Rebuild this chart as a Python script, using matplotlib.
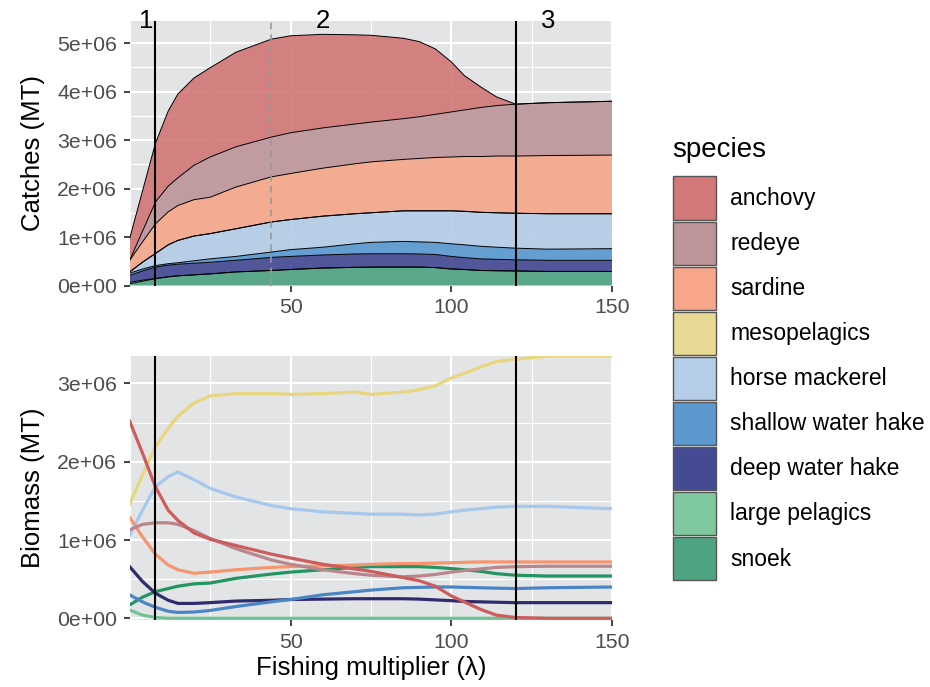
import numpy as np
import matplotlib
matplotlib.use('Agg')
import matplotlib.pyplot as plt
from matplotlib.patches import Patch
from matplotlib.ticker import FuncFormatter, MultipleLocator

plt.rcParams['font.family'] = ['Liberation Sans', 'DejaVu Sans']

# fishing multiplier (lambda)
lam = [0, 4, 8, 12, 15, 20, 25, 33, 44, 50, 60, 70, 75, 85, 90, 95, 100, 104, 109, 114, 120, 130, 150]

species = ['anchovy', 'redeye', 'sardine', 'mesopelagics', 'horse mackerel',
           'shallow water hake', 'deep water hake', 'large pelagics', 'snoek']

# catches, millions of tonnes
catch_anchovy = [0.445, 0.83, 1.21, 1.55, 1.73, 1.80, 1.84, 1.95, 2.02, 2.00, 1.93, 1.84, 1.79, 1.66, 1.55, 1.35, 1.03, 0.71, 0.43, 0.18, 0, 0, 0]
catch_redeye = [0, 0.22, 0.45, 0.53, 0.57, 0.71, 0.83, 0.83, 0.82, 0.84, 0.83, 0.82, 0.82, 0.84, 0.86, 0.89, 0.93, 0.96, 1.01, 1.04, 1.07, 1.09, 1.11]
catch_sardine = [0.24, 0.42, 0.61, 0.68, 0.72, 0.75, 0.75, 0.86, 0.93, 0.95, 0.99, 1.03, 1.05, 1.06, 1.08, 1.10, 1.11, 1.13, 1.15, 1.17, 1.18, 1.20, 1.21]
catch_meso = [0] * 23
catch_hmack = [0.025, 0.14, 0.25, 0.39, 0.46, 0.51, 0.52, 0.57, 0.62, 0.62, 0.64, 0.62, 0.61, 0.63, 0.64, 0.65, 0.68, 0.69, 0.70, 0.71, 0.72, 0.73, 0.72]
catch_swh = [0.045, 0.04, 0.03, 0.03, 0.03, 0.05, 0.07, 0.08, 0.11, 0.14, 0.16, 0.21, 0.235, 0.255, 0.25, 0.25, 0.26, 0.265, 0.26, 0.25, 0.24, 0.23, 0.24]
catch_dwh = [0.145, 0.19, 0.235, 0.24, 0.24, 0.24, 0.24, 0.24, 0.27, 0.27, 0.27, 0.275, 0.275, 0.275, 0.27, 0.27, 0.26, 0.245, 0.24, 0.235, 0.23, 0.23, 0.23]
catch_lpel = [0.03, 0.02, 0.005] + [0] * 20
catch_snoek = [0.035, 0.09, 0.14, 0.18, 0.20, 0.22, 0.24, 0.28, 0.31, 0.33, 0.36, 0.375, 0.38, 0.38, 0.38, 0.37, 0.34, 0.33, 0.31, 0.305, 0.30, 0.29, 0.29]

# biomass, millions of tonnes
bio_anchovy = [2.52, 2.11, 1.68, 1.38, 1.25, 1.09, 1.01, 0.93, 0.82, 0.77, 0.69, 0.63, 0.60, 0.52, 0.48, 0.41, 0.285, 0.21, 0.115, 0.04, 0.01, 0, 0]
bio_redeye = [1.13, 1.20, 1.22, 1.22, 1.20, 1.12, 1.02, 0.89, 0.745, 0.69, 0.62, 0.57, 0.55, 0.53, 0.54, 0.56, 0.59, 0.61, 0.63, 0.65, 0.66, 0.665, 0.665]
bio_sardine = [1.29, 1.04, 0.82, 0.68, 0.62, 0.575, 0.59, 0.62, 0.65, 0.66, 0.67, 0.68, 0.69, 0.70, 0.70, 0.705, 0.71, 0.715, 0.72, 0.72, 0.72, 0.72, 0.72]
bio_meso = [1.46, 1.83, 2.19, 2.43, 2.58, 2.75, 2.84, 2.87, 2.87, 2.86, 2.87, 2.89, 2.86, 2.89, 2.92, 2.97, 3.07, 3.13, 3.21, 3.28, 3.31, 3.35, 3.35]
bio_hmack = [1.06, 1.38, 1.68, 1.81, 1.87, 1.77, 1.66, 1.55, 1.44, 1.40, 1.36, 1.34, 1.33, 1.33, 1.32, 1.33, 1.36, 1.38, 1.40, 1.42, 1.43, 1.43, 1.40]
bio_swh = [0.30, 0.21, 0.14, 0.09, 0.075, 0.08, 0.10, 0.15, 0.21, 0.24, 0.30, 0.34, 0.36, 0.39, 0.395, 0.40, 0.40, 0.395, 0.39, 0.385, 0.38, 0.39, 0.40]
bio_dwh = [0.66, 0.47, 0.32, 0.23, 0.19, 0.19, 0.20, 0.22, 0.23, 0.24, 0.245, 0.25, 0.25, 0.25, 0.245, 0.235, 0.225, 0.215, 0.21, 0.205, 0.20, 0.20, 0.20]
bio_lpel = [0.105, 0.04, 0.01] + [0] * 20
bio_snoek = [0.17, 0.27, 0.34, 0.38, 0.41, 0.44, 0.45, 0.51, 0.565, 0.59, 0.62, 0.65, 0.66, 0.66, 0.66, 0.65, 0.635, 0.62, 0.60, 0.57, 0.55, 0.54, 0.54]

fill_cols = ['#D27879', '#BD9599', '#F5A68B', '#E8D994', '#B5CDE8',
             '#5A98CF', '#454A94', '#80C9A0', '#4EA381']
line_cols = ['#CD5C5C', '#B8868B', '#F7956F', '#E8D67C', '#A6C8EC',
             '#4A85C6', '#2F2B6E', '#6DC490', '#239462']

catches = [catch_anchovy, catch_redeye, catch_sardine, catch_meso, catch_hmack,
           catch_swh, catch_dwh, catch_lpel, catch_snoek]
biomass = [bio_anchovy, bio_redeye, bio_sardine, bio_meso, bio_hmack,
           bio_swh, bio_dwh, bio_lpel, bio_snoek]

x = np.array(lam)
C = np.array(catches) * 1e6
B = np.array(biomass) * 1e6

panel_bg = '#E3E4E6'


def style_panel(ax):
    ax.set_facecolor(panel_bg)
    for s in ax.spines.values():
        s.set_visible(False)
    ax.xaxis.set_major_locator(MultipleLocator(50))
    ax.xaxis.set_minor_locator(MultipleLocator(25))
    ax.grid(which='major', color='white', lw=1.5)
    ax.grid(which='minor', color='white', lw=0.8)
    ax.set_axisbelow(True)
    ax.tick_params(which='major', length=4.3, width=1.3, color='#333333',
                   labelcolor='#4D4D4D', labelsize=15.3, pad=4.8)
    ax.tick_params(which='minor', length=0)
    ax.yaxis.set_major_formatter(FuncFormatter(lambda v, p: f'{v:.0e}'))
    ax.set_xlim(0, 150)
    ax.set_xticks([50, 100, 150])


fig = plt.figure(figsize=(9.3, 6.87), dpi=100)
ax1 = fig.add_axes([0.1394, 0.5844, 0.519, 0.3854])
ax2 = fig.add_axes([0.1394, 0.0975, 0.519, 0.3847])

# top: stacked catches (snoek at the bottom)
style_panel(ax1)
order = list(range(len(species)))[::-1]
ax1.stackplot(x, C[order], colors=[fill_cols[i] for i in order], alpha=0.92, lw=0)
tops = np.cumsum(C[order], axis=0)
for t in tops:
    ax1.plot(x, t, color='black', lw=0.7)
ax1.set_ylim(0, 5.46e6)
ax1.yaxis.set_major_locator(MultipleLocator(1e6))
ax1.yaxis.set_minor_locator(MultipleLocator(5e5))
ax1.set_ylabel('Catches (MT)', fontsize=18.5, labelpad=9)

# bottom: biomass lines
style_panel(ax2)
for i in order:
    ax2.plot(x, B[i], color=line_cols[i], lw=2.3)
ax2.set_ylim(-0.022e6, 3.354e6)
ax2.yaxis.set_major_locator(MultipleLocator(1e6))
ax2.yaxis.set_minor_locator(MultipleLocator(5e5))
ax2.set_ylabel('Biomass (MT)', fontsize=18.5, labelpad=9)
ax2.set_xlabel('Fishing multiplier (λ)', fontsize=18.5, labelpad=3)

# phase boundaries
for ax in (ax1, ax2):
    ax.axvline(8, color='black', lw=1.5)
    ax.axvline(120, color='black', lw=1.5)
ax1.axvline(44, color='#999999', lw=1.2, ls=(0, (4, 3)))
for xp, lab in [(5, '1'), (60, '2'), (130, '3')]:
    ax1.text(xp, 1.0, lab, transform=ax1.get_xaxis_transform(), ha='center',
             va='center', fontsize=18.5, clip_on=False)

fig.text(672 / 930, 1 - 150 / 687, 'species', fontsize=20, va='center', ha='left')
handles = [Patch(facecolor=c, edgecolor='#555555', lw=1.0) for c in fill_cols]
fig.legend(handles, species, loc='upper left',
           bbox_to_anchor=(672.5 / 930, 1 - 176.5 / 687),
           frameon=False, fontsize=16.5,
           handlelength=1.88, handleheight=2.51,
           labelspacing=0.09, handletextpad=0.65, borderpad=0,
           borderaxespad=0)

fig.savefig('out.png', dpi=100)
